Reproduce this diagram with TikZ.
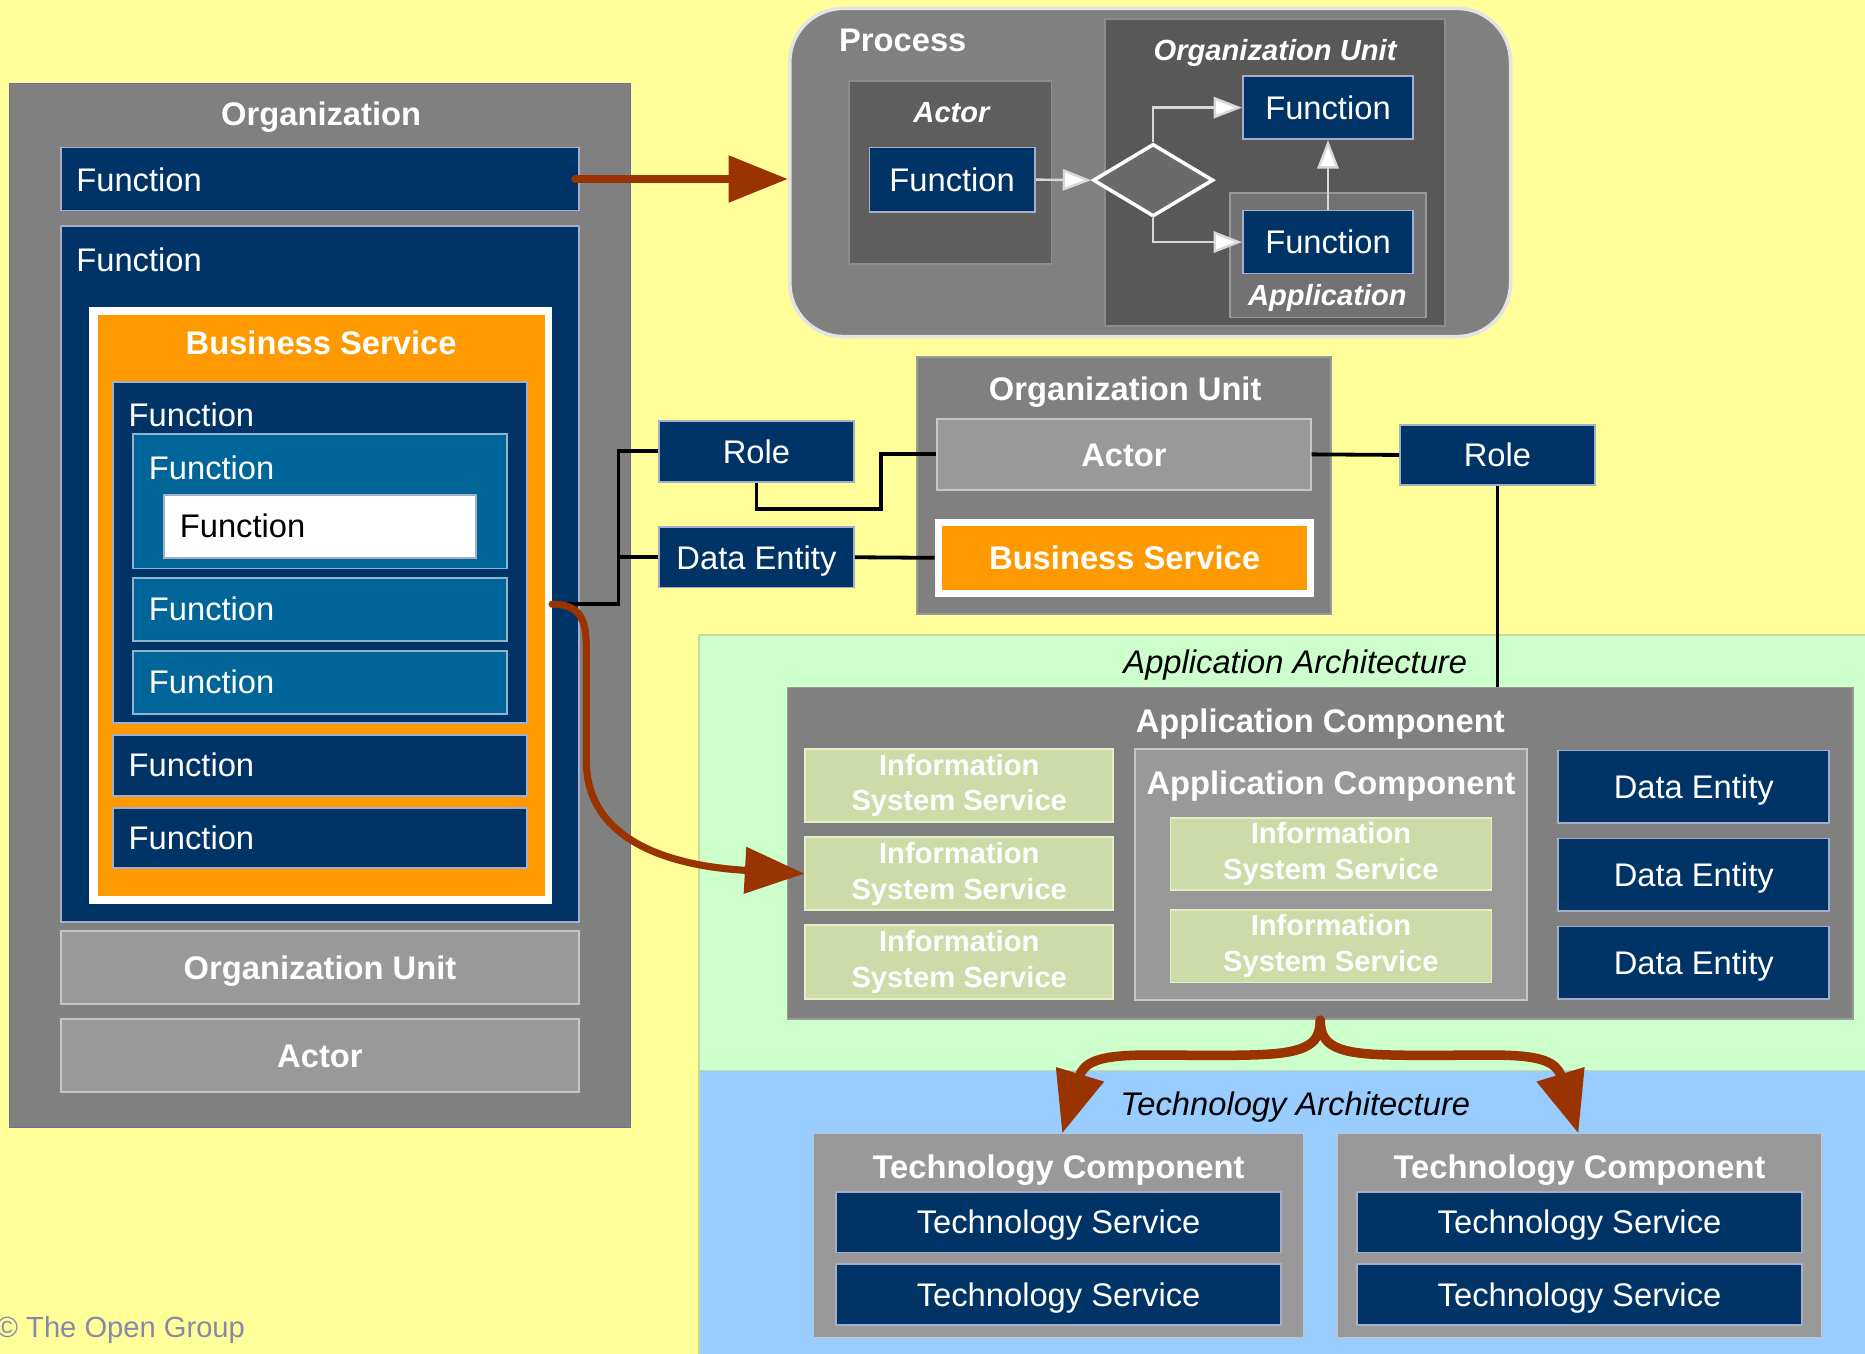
\documentclass[tikz,border=0pt]{standalone}
\usepackage{fontspec}
\setmainfont{Liberation Sans}
\usetikzlibrary{arrows.meta,shapes.geometric,calc}

\definecolor{bgy}{HTML}{FFFF99}
\definecolor{navy}{HTML}{003366}
\definecolor{navyedge}{HTML}{A4AEC8}
\definecolor{midblue}{HTML}{006699}
\definecolor{midedge}{HTML}{8FB4D0}
\definecolor{orng}{HTML}{FF9900}
\definecolor{gmid}{HTML}{808080}
\definecolor{gmidedge}{HTML}{9A9A9A}
\definecolor{glight}{HTML}{999999}
\definecolor{glightedge}{HTML}{C6C6C6}
\definecolor{gdark}{HTML}{5E5E5E}
\definecolor{gdarker}{HTML}{585858}
\definecolor{gdarkedge}{HTML}{8C8C8C}
\definecolor{gapp}{HTML}{727272}
\definecolor{gdia}{HTML}{6A6A6A}
\definecolor{green1}{HTML}{CCFFCC}
\definecolor{greenedge}{HTML}{C8D8A0}
\definecolor{blue1}{HTML}{99CCFF}
\definecolor{iss}{HTML}{CCDBA8}
\definecolor{issedge}{HTML}{E6EEC6}
\definecolor{brn}{HTML}{993300}
\definecolor{copyc}{HTML}{8888A8}
\definecolor{orgedge}{HTML}{6E6E9A}
\definecolor{procedge}{HTML}{E4E4E4}
\definecolor{wline}{HTML}{D8D8D8}
\definecolor{tcedge}{HTML}{B4C8DC}

\newcommand\fA{\fontsize{27.5}{32}\selectfont}
\newcommand\fB{\fontsize{27.5}{32}\selectfont}
\newcommand\fC{\fontsize{24.5}{30}\selectfont}

% box macro: style, name, x1, y1, x2, y2, text
\newcommand\bx[7]{%
  \pgfmathsetmacro\bxw{#5-#3}%
  \pgfmathsetmacro\bxh{#6-#4}%
  \pgfmathsetmacro\bxcx{(#3+#5)/2}%
  \pgfmathsetmacro\bxcy{(#4+#6)/2}%
  \node[inner sep=0pt, #1, minimum width=\bxw pt, minimum height=\bxh pt] (#2) at (\bxcx,\bxcy) {#7};}

\begin{document}
\begin{tikzpicture}[x=1pt,y=-1pt,
  box/.style={inner sep=0pt, text=white, font=\fA, text height=19.8pt, text depth=0pt},
  nv/.style={box, fill=navy, draw=navyedge, line width=1.5pt},
  mb/.style={box, fill=midblue, draw=midedge, line width=1.5pt},
  gl/.style={box, fill=glight, draw=glightedge, line width=1.5pt, font=\bfseries\fA},
  issb/.style={inner sep=0pt, fill=iss, draw=issedge, line width=1.5pt, text=white, font=\bfseries\fC, align=center},
  ttl/.style={inner sep=0pt, text=white, font=\bfseries\fA, text height=19.8pt, text depth=0pt},
  ittl/.style={inner sep=0pt, text=white, font=\bfseries\itshape\fC, text height=17.6pt, text depth=0pt},
  lbl/.style={inner sep=0pt, text=white, font=\fA, anchor=west, text height=19.8pt, text depth=0pt},
  arch/.style={inner sep=0pt, text=black, font=\itshape\fA, text height=19.8pt, text depth=0pt},
  blk/.style={draw=black, line width=3.2pt},
  brnarrow/.style={draw=brn, line width=7pt, line cap=round, -{Triangle[length=50pt,width=38pt]}},
  wh/.style={draw=wline, line width=2pt, -{Triangle[length=24pt,width=18pt,fill=white]}}
]
\useasboundingbox (0,0) rectangle (1568,1138);
\fill[bgy] (0,0) rectangle (1568,1138);

% ---------- architecture bands
\bx{fill=green1, draw=greenedge, line width=1.5pt}{aarch}{588}{534}{1575}{900}{}
\bx{fill=blue1, draw=greenedge, line width=1.5pt}{tarch}{588}{900}{1575}{1145}{}

% ---------- Organization
\bx{fill=gmid, draw=orgedge, line width=1pt}{org}{8}{70}{530}{948}{}
\node[ttl] (orgT) at (270,96) {Organization};
\bx{nv}{f1}{51}{124}{487}{177}{}
\node[lbl] (f1t) at (64,151) {Function};
\bx{nv}{f2}{51}{190}{487}{775}{}
\node[lbl] (f2t) at (64,218) {Function};
\bx{fill=white}{bsw}{75}{258}{464}{760}{}
\bx{fill=orng}{bso}{82}{265}{458}{753}{}
\node[ttl] (bsT) at (270,288) {Business Service};
\bx{nv}{f3}{95}{321}{443}{608}{}
\node[lbl] (f3t) at (108,349) {Function};
\bx{mb}{f4}{112}{365}{426}{478}{}
\node[lbl] (f4t) at (125,393) {Function};
\bx{box, fill=white, draw=navyedge, line width=1.5pt}{f5}{138}{416}{400}{469}{}
\node[lbl, text=black] (f5t) at (151,442) {Function};
\bx{mb}{f6}{112}{486}{426}{539}{}
\node[lbl] (f6t) at (125,512) {Function};
\bx{mb}{f7}{112}{547}{426}{600}{}
\node[lbl] (f7t) at (125,573) {Function};
\bx{nv}{f8}{95}{618}{443}{669}{}
\node[lbl] (f8t) at (108,643) {Function};
\bx{nv}{f9}{95}{679}{443}{730}{}
\node[lbl] (f9t) at (108,704) {Function};
\bx{gl}{ou1}{51}{783}{487}{844}{Organization Unit}
\bx{gl}{ac1}{51}{857}{487}{918}{Actor}

\node[inner sep=0pt, anchor=west, text=copyc, font=\fC] (copy) at (-3,1118) {© The Open Group};

% ---------- Process
\bx{fill=gmid, draw=procedge, line width=3pt, rounded corners=45pt}{proc}{664}{7}{1270}{283}{}
\node[ttl] (procT) at (759,33) {Process};
\bx{fill=gdark, draw=gdarkedge, line width=1.5pt}{actP}{714}{68}{884}{222}{}
\node[ittl] (actPT) at (800,94) {Actor};
\bx{nv}{afn}{731}{124}{870}{178}{Function}
\bx{fill=gdarker, draw=gdarkedge, line width=1.5pt}{ouP}{929}{16}{1215}{274}{}
\node[ittl] (ouPT) at (1072,42) {Organization Unit};
\bx{fill=gapp, draw=glight, line width=1.5pt}{appP}{1034}{162}{1199}{267}{}
\node[ittl] (appPT) at (1116,248) {Application};
\bx{nv}{ft}{1045}{64}{1188}{117}{Function}
\bx{nv}{fb}{1045}{177}{1188}{230}{Function}
\node[diamond, aspect=1.65, minimum width=101pt, minimum height=61pt, inner sep=0pt, fill=gdia, draw=white, line width=3pt] (dia) at (969.5,151.5) {};
\draw[wh] (afn.east) -- (dia.west);
\draw[wh] (dia.north) |- (ft.west);
\draw[wh] (dia.south) |- (fb.west);
\draw[wh] (fb.north) -- (ft.south);

% ---------- middle Organization Unit
\bx{fill=gmid, draw=gmidedge, line width=1.5pt}{ouM}{771}{300}{1119}{516}{}
\node[ttl] (ouMT) at (946,327) {Organization Unit};
\bx{gl}{actM}{788}{352}{1102}{412}{Actor}
\bx{fill=white}{bsMw}{786}{436}{1105}{502}{}
\bx{box, fill=orng, font=\bfseries\fA}{bsM}{792}{442}{1099}{496}{Business Service}
\bx{nv}{roleL}{554}{354}{718}{405}{Role}
\bx{nv}{deL}{554}{443}{718}{494}{Data Entity}
\bx{nv}{roleR}{1177}{357}{1341}{408}{Role}

% ---------- Application Architecture
\node[arch] (aaT) at (1089,556) {Application Architecture};
\bx{fill=gmid, draw=gmidedge, line width=1.5pt}{acO}{662}{578}{1558}{857}{}
\node[ttl, font=\bfseries\fB] (acOT) at (1110,606) {Application Component};
\bx{issb}{iss1}{677}{630}{936}{691}{Information\\System Service}
\bx{issb}{iss2}{677}{704}{936}{765}{Information\\System Service}
\bx{issb}{iss3}{677}{778}{936}{840}{Information\\System Service}
\bx{fill=glight, draw=glightedge, line width=1.5pt}{acI}{954}{630}{1284}{841}{}
\node[ttl, font=\bfseries\fB] (acIT) at (1119,658) {Application Component};
\bx{issb}{iss4}{984}{688}{1254}{748}{Information\\System Service}
\bx{issb}{iss5}{984}{765}{1254}{826}{Information\\System Service}
\bx{nv}{de1}{1310}{631}{1538}{692}{Data Entity}
\bx{nv}{de2}{1310}{705}{1538}{766}{Data Entity}
\bx{nv}{de3}{1310}{779}{1538}{840}{Data Entity}

% ---------- Technology Architecture
\node[arch] (taT) at (1089,928) {Technology Architecture};
\bx{fill=glight, draw=tcedge, line width=1.5pt}{tc1}{684}{953}{1096}{1125}{}
\node[ttl] (tc1T) at (890,981) {Technology Component};
\bx{fill=glight, draw=tcedge, line width=1.5pt}{tc2}{1124}{953}{1532}{1125}{}
\node[ttl] (tc2T) at (1328,981) {Technology Component};
\bx{nv}{ts1}{703}{1002}{1077}{1053}{Technology Service}
\bx{nv}{ts2}{703}{1063}{1077}{1114}{Technology Service}
\bx{nv}{ts3}{1141}{1002}{1515}{1053}{Technology Service}
\bx{nv}{ts4}{1141}{1063}{1515}{1114}{Technology Service}

% ---------- black connectors
\coordinate (jA) at (520,508);
\coordinate (jB) at (741,428);
\draw[blk] (jA -| bsw.east) -- (jA) |- (roleL.west);
\draw[blk] (jA |- deL.west) -- (deL.west);
\draw[blk] (roleL.south) |- (jB) |- (actM.west);
\draw[blk] (deL.east) -- (bsMw.west);
\draw[blk] (actM.east) -- (roleR.west);
\draw[blk, line width=2.5pt] (roleR.south) -- (roleR.south |- acO.north);

% ---------- brown arrows
\draw[brnarrow] ([xshift=-4pt]f1.east) -- (f1.east -| proc.west);
\draw[brnarrow, line width=6pt] (jA -| bsw.east) .. controls (495,508) and (493,530) .. (493,560)
   -- (493,640) .. controls (493,705) and (560,728) .. (iss2.west);
\coordinate (tipL) at (893,953);
\coordinate (tipR) at (1327,953);
\draw[brnarrow, line width=8pt, -{Triangle[length=52pt,width=40pt]}] (acO.south) .. controls (1110,880) and (1095,886) .. (1050,887)
   .. controls (965,889) and (915,880) .. (tipL);
\draw[brnarrow, line width=8pt, -{Triangle[length=52pt,width=40pt]}] (acO.south) .. controls (1110,880) and (1125,886) .. (1170,887)
   .. controls (1255,889) and (1305,880) .. (tipR);
\end{tikzpicture}
\end{document}
